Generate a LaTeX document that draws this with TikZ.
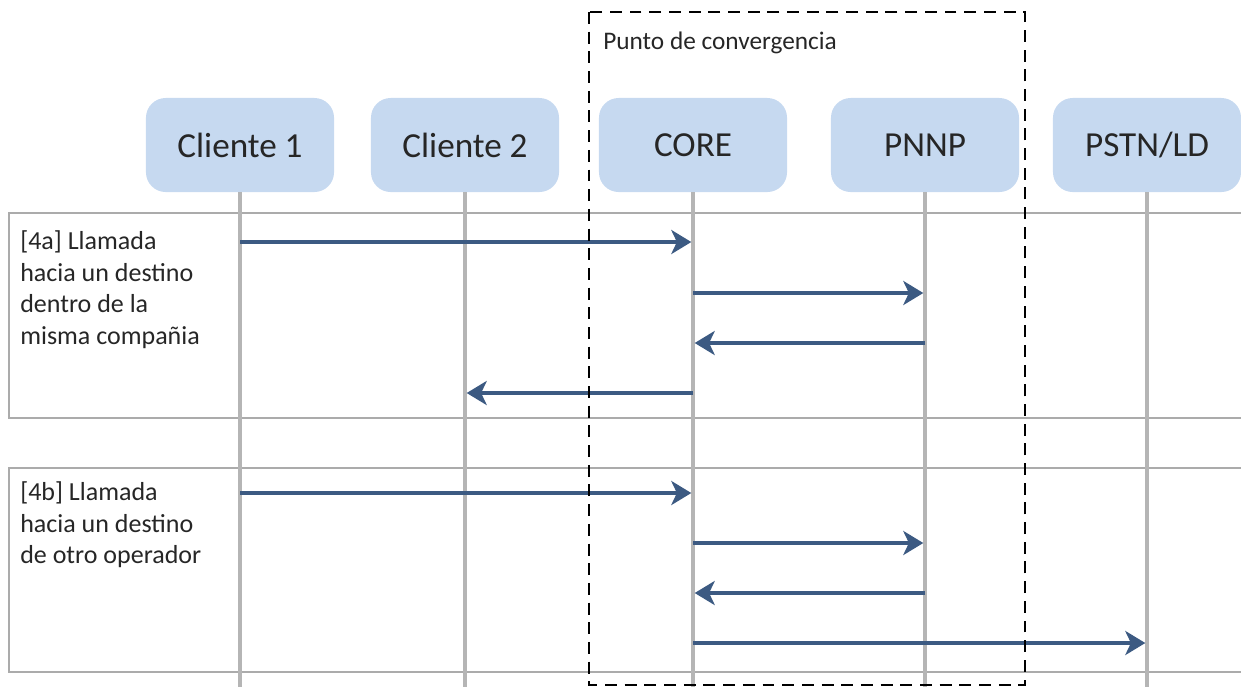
\documentclass[tikz,border=0pt]{standalone}
\usepackage{fontspec}
\setmainfont{Carlito}
\usetikzlibrary{arrows.meta,positioning}
\definecolor{nodefill}{HTML}{C6D9F0}
\definecolor{msgblue}{HTML}{3C5A82}
\definecolor{lifegray}{HTML}{B5B5B5}
\definecolor{framegray}{HTML}{ABABAB}
\definecolor{txtgray}{HTML}{262626}
\tikzset{
  actor/.style={fill=nodefill,rounded corners=14pt,minimum width=4.7cm,minimum height=2.35cm,
    text=txtgray,font=\fontsize{25}{30}\selectfont},
  ar/.style={-{Stealth[length=5mm,width=6mm,inset=1.4mm]},line width=2.8pt,msgblue,shorten >=1.2pt},
  life/.style={lifegray,line width=2.4pt},
  frm/.style={framegray,line width=1.4pt},
  lbl/.style={align=left,anchor=north west,inner sep=0pt,text=txtgray,font=\fontsize{18.5}{22.7}\selectfont}
}
\newcommand{\msg}[3]{\draw[ar] (#1 |- 0,#3) -- (#2 |- 0,#3);}

\begin{document}
\begin{tikzpicture}[x=0.025cm,y=-0.025cm]
\useasboundingbox (0,0) rectangle (1241,687);
% frames
\draw[frm] (1241,213) -| (9,418) -- (1241,418);
\draw[frm] (1241,468) -| (9,672) -- (1241,672);
% actors
\node[actor] (c1) at (240,145) {Cliente 1};
\node[actor] (c2) at (465,145) {Cliente 2};
\node[actor] (core) at (693,145) {CORE};
\node[actor] (pnnp) at (925,145) {PNNP};
\node[actor] (pstn) at (1147,145) {PSTN/LD};
% lifelines
\foreach \n in {c1,c2,core,pnnp,pstn}{
  \coordinate (\n-end) at (\n |- 0,687);
  \draw[life] (\n.south) -- (\n-end);
}
% labels
\node[lbl] (la) at (20,230) {[4a] Llamada\\hacia un destino\\dentro de la\\misma compañia};
\node[lbl] (lb) at (20,481) {[4b] Llamada\\hacia un destino\\de otro operador};
% [4a]
\msg{c1}{core}{242}
\msg{core}{pnnp}{293}
\msg{pnnp}{core}{343}
\msg{core}{c2}{393}
% [4b]
\msg{c1}{core}{493}
\msg{core}{pnnp}{543}
\msg{pnnp}{core}{593}
\msg{core}{pstn}{643}
% convergence zone
\draw[black,line width=1.5pt,dash pattern=on 8.5pt off 5.5pt] (589,12) rectangle (1025,685);
\node[anchor=base west,inner sep=0pt,text=txtgray,font=\fontsize{18}{21}\selectfont] (conv) at (603,49) {Punto de convergencia};
\end{tikzpicture}
\end{document}
